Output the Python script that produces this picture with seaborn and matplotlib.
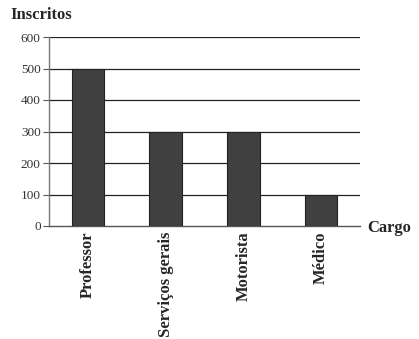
import matplotlib
matplotlib.use("Agg")
import matplotlib.pyplot as plt
import seaborn as sns
import pandas as pd

categories = ["Professor", "Serviços gerais", "Motorista", "Médico"]
inscritos = [500, 300, 300, 100]
yticks = [0, 100, 200, 300, 400, 500, 600]

df = pd.DataFrame({"Cargo": categories, "Inscritos": inscritos})

sns.set_style("white")
plt.rcParams['font.family'] = ['Liberation Serif', 'DejaVu Serif']

fig = plt.figure(figsize=(4.19, 3.39), dpi=100)
ax = fig.add_axes([49/419, 1-226/339, (360-49)/419, (226-37)/339])

sns.barplot(data=df, x="Cargo", y="Inscritos", ax=ax, color="#404040",
            width=0.42, edgecolor="#222222", linewidth=0.8, saturation=1, zorder=3)

ax.set_ylim(0, 600)
ax.set_xlim(-0.5, 3.5)
ax.set_yticks(yticks)
ax.set_yticklabels([str(v) for v in yticks], fontsize=9.5, color="#333333")
for v in yticks[1:]:
    ax.axhline(v, color="#222222", lw=0.9, zorder=1)

ax.set_xticks([x + 0.5 for x in range(-1, 4)])
ax.set_xticklabels([])
ax.set_xticks(range(4), minor=True)
ax.set_xticklabels(categories, minor=True, rotation=90, fontsize=12,
                   fontweight="bold", va="top", ha="center")
ax.tick_params(axis="x", which="minor", length=0, pad=4)
ax.tick_params(axis="x", which="major", length=4, width=0.8, color="#555555", direction="out")
ax.tick_params(axis="y", length=4, width=0.8, color="#555555", direction="out", pad=2, left=True)

ax.set_xlabel("")
ax.set_ylabel("")
for s in ["top", "right"]:
    ax.spines[s].set_visible(False)
ax.spines["left"].set_color("#777777")
ax.spines["bottom"].set_color("#555555")
ax.spines["left"].set_linewidth(1.0)
ax.spines["bottom"].set_linewidth(1.0)

fig.text(10/419, 1-15/339, "Inscritos", fontsize=12, fontweight="bold", va="center", ha="left")
fig.text(367/419, 1-228/339, "Cargo", fontsize=12, fontweight="bold", va="center", ha="left")

fig.savefig("out.png", dpi=100, facecolor="white")
